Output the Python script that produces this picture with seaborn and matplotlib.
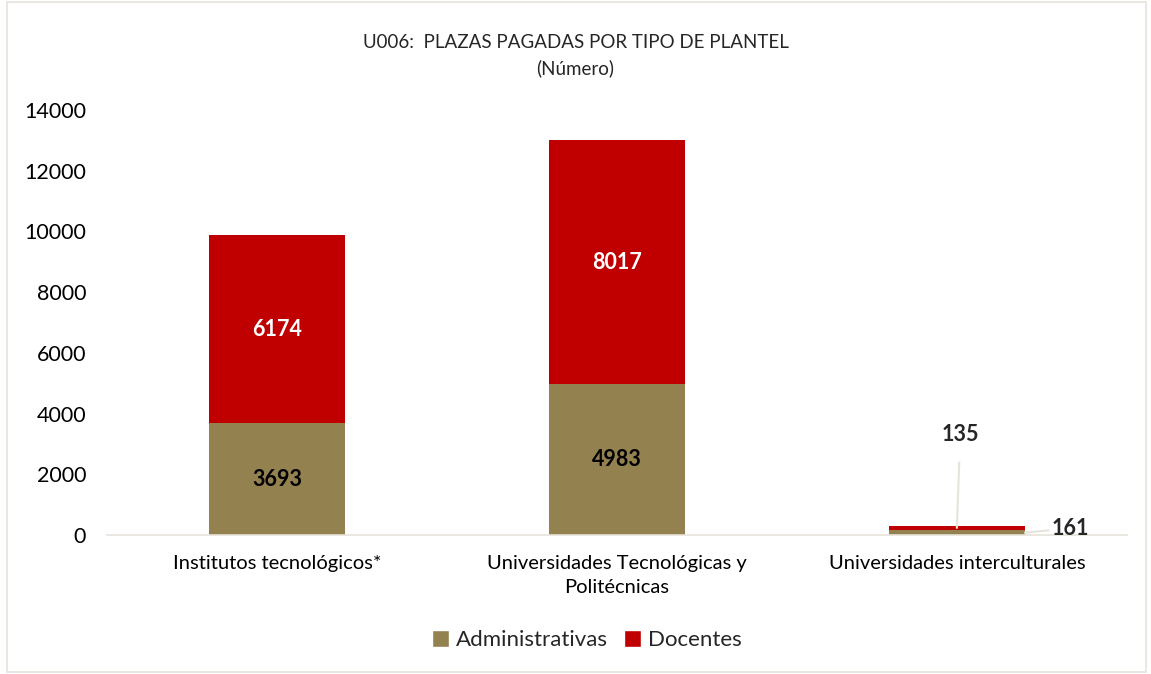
import pandas as pd
import numpy as np
import matplotlib.pyplot as plt
import seaborn as sns
from matplotlib.patches import Patch, Rectangle

# =========================
# DATA
# =========================

categorias = [
    "Institutos tecnológicos*",
    "Universidades Tecnológicas y\nPolitécnicas",
    "Universidades interculturales",
]
administrativas = [3693, 4983, 161]
docentes = [6174, 8017, 135]

COLOR_ADM = "#948150"
COLOR_DOC = "#C00000"

df = pd.DataFrame({
    "Categoria": categorias,
    "Administrativas": administrativas,
    "Docentes": docentes,
})
df["Total"] = df["Administrativas"] + df["Docentes"]

# =========================
# PLOT
# =========================

sns.set_style("white")
plt.rcParams["font.family"] = ["Lato", "DejaVu Sans"]

fig = plt.figure(figsize=(11.51, 6.74), dpi=100)
ax = fig.add_axes([0.093, 0.206, 0.886, 0.631])

# stacked: total first (docentes on top), then administrativas
sns.barplot(data=df, x="Categoria", y="Total", color=COLOR_DOC,
            width=0.4, saturation=1, linewidth=0, ax=ax)
sns.barplot(data=df, x="Categoria", y="Administrativas", color=COLOR_ADM,
            width=0.4, saturation=1, linewidth=0, ax=ax)

ax.set_xlim(-0.5, 2.5)
ax.set_ylim(0, 14000)
ax.set_yticks(np.arange(0, 14001, 2000))
ax.set_xlabel("")
ax.set_ylabel("")
ax.tick_params(axis="y", labelsize=15.5, length=0, pad=15, colors="#000000")
ax.tick_params(axis="x", labelsize=14.5, length=0, pad=14, colors="#000000")
for lbl in ax.get_xticklabels():
    lbl.set_linespacing(1.5)
for s in ["top", "right", "left"]:
    ax.spines[s].set_visible(False)
ax.spines["bottom"].set_color("#E6E3DA")
ax.spines["bottom"].set_linewidth(1.2)

# value labels inside the big bars
for i in range(2):
    a = administrativas[i]
    d = docentes[i]
    ax.text(i, a / 2, str(a), ha="center", va="center",
            fontsize=15.5, fontweight="bold", color="black")
    ax.text(i, a + d / 2, str(d), ha="center", va="center",
            fontsize=15.5, fontweight="bold", color="white")

# small bar: labels with leader lines
i = 2
tot = administrativas[i] + docentes[i]
ax.annotate(str(docentes[i]), xy=(i + 0.0, tot - 60), xytext=(i + 0.01, 3300),
            ha="center", va="center", fontsize=15.5, fontweight="bold",
            arrowprops=dict(arrowstyle="-", color="#E6E3DA", lw=1.5,
                            shrinkA=10, shrinkB=0))
ax.annotate(str(administrativas[i]), xy=(i + 0.2, 80), xytext=(i + 0.335, 230),
            ha="center", va="center", fontsize=15.5, fontweight="bold",
            arrowprops=dict(arrowstyle="-", color="#E6E3DA", lw=1.5,
                            shrinkA=22, shrinkB=0))

# title
fig.text(0.5, 0.937, "U006:  PLAZAS PAGADAS POR TIPO DE PLANTEL",
         ha="center", va="center", fontsize=13.5)
fig.text(0.5, 0.899, "(Número)", ha="center", va="center", fontsize=13.5)

# legend
handles = [Patch(facecolor=COLOR_ADM, label="Administrativas"),
           Patch(facecolor=COLOR_DOC, label="Docentes")]
fig.legend(handles=handles, loc="center", bbox_to_anchor=(0.51, 0.05),
           ncol=2, frameon=False, fontsize=16, handlelength=0.75,
           handleheight=0.75, handletextpad=0.35, columnspacing=0.7)

# figure border
fig.patches.append(Rectangle((0.006, 0.003), 0.99, 0.994, transform=fig.transFigure,
                             fill=False, edgecolor="#E6E3DA", lw=1.2))

plt.savefig("out.png", dpi=100)
plt.close()
